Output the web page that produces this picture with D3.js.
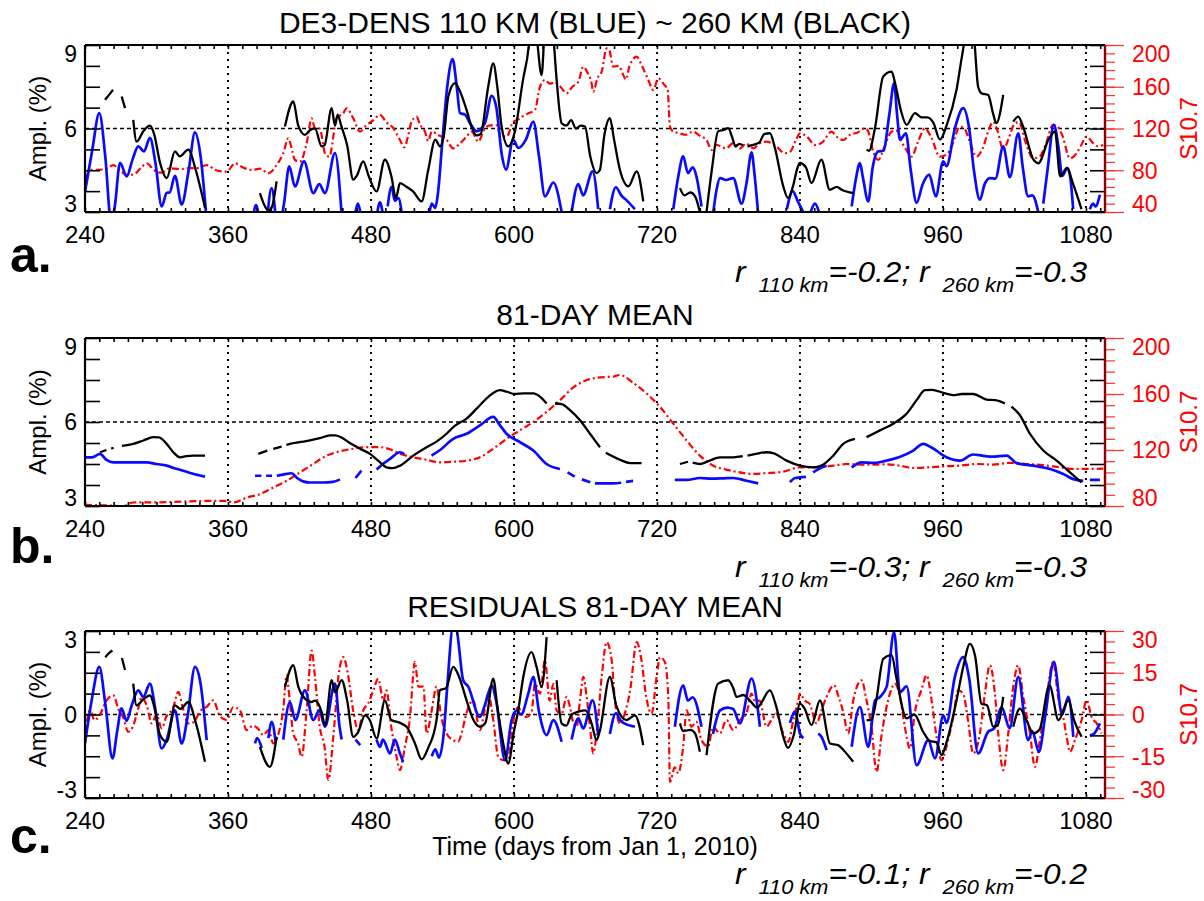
<!DOCTYPE html>
<html>
<head>
<meta charset="utf-8">
<script src="https://cdn.jsdelivr.net/npm/d3@7"></script>
<style>
  body { margin: 0; background: #fff; }
  text { font-family: "Liberation Sans", Arial, sans-serif; }
</style>
</head>
<body>
<svg id="chart" width="1204" height="901"></svg>
<script>
// tick labels
var xLabels = [240, 360, 480, 600, 720, 840, 960, 1080];

// panel a: DE3 amplitude, 110 km (blue) and 260 km (black), and S10.7
var ampBlue = [[240,3.73],[246,5.2],[252,6.55],[257,5.0],[262,2.6],[265,3.2],[269.4,4.77],[275,4.28],[280,4.9],[284.7,5.36],[289.5,5.18],[294.5,5.66],[299,4.8],[304.4,3.2],[308.6,3.69],[311,3.7],[315.5,4.3],[321.1,3.27],[327,4.5],[332.3,5.86],[337,5.0],[341.5,3.0],null,
  [381,2.8],[383.5,3.25],[386,2.8],null,[393,2.8],[396.6,3.86],[400,2.8],null,
  [405,2.8],[407,3.3],[411.4,4.64],[416.2,3.92],[423.8,4.82],[431.6,3.68],[436.6,4.0],[441.4,3.68],[449.8,5.12],[455.4,2.9],null,
  [467,3.0],[469,3.3],[471,3.0],null,[485,2.9],[487.5,3.35],[490,2.9],null,
  [494,3.2],[497.3,3.9],[500,3.4],[503,3.5],[506,2.9],null,
  [529,2.95],[531,3.3],[534,3.15],[536,3.6],[540,5.6],[544,7.5],[548.5,8.49],[552,7.5],[554.7,6.55],[558.9,6.5],[563,6.2],[568.7,5.9],[575.6,6.19],[581.3,7.17],[585,6.8],[590,5.0],[593.3,4.52],[599.4,5.6],[603.6,5.3],[610,5.6],[616.2,6.25],[621,5.0],[626,3.56],[633,4.06],[640,3.0],null,
  [648.4,3.0],[654,4.0],[658,3.6],[666,4.46],[670.7,3.1],null,
  [680.5,3.1],[685.5,3.89],[690,3.6],[695,3.4],[701.5,3.1],null,
  [733.7,3.1],[738,4.3],[742,5.0],[746,4.4],[750,4.6],[753,4.3],[757.4,3.2],null,
  [767,2.9],[770,3.8],[772.9,4.22],[778,4.15],[784,4.22],[791,3.3],[795,4.0],[799.4,5.14],[802,4.3],[805,2.9],null,
  [829,3.1],[834,3.75],[838,3.4],[842.8,3.0],null,[849,3.0],[852.6,3.3],[856,3.0],null,
  [883.4,3.2],[887,4.2],[890.3,4.76],[893,4.2],[897.3,3.38],[901,4.6],[905.7,5.18],[910,5.2],[915,6.5],[919,7.63],[921.5,6.5],[923.9,5.6],[928.9,5.83],[933,4.5],[937.9,3.33],[943,4.0],[948.5,4.34],[954,3.56],[960.2,4.82],[963,4.65],[970,6.0],[977,6.73],[982,6.0],[986,4.5],[991,3.44],[995,4.0],[999.4,4.22],[1004,4.2],[1010.6,5.36],[1016.2,4.25],[1023.2,5.83],[1027,4.6],[1031.5,3.56],[1035,3.6],[1040.5,2.9],null,
  [1044.2,3.3],[1048,4.6],[1053.1,6.13],[1057,5.3],[1060,4.3],[1064.6,4.58],[1067,4.2],[1069.3,3.1],null,
  [1083.3,3.1],[1086,3.3],[1088,3.2],[1091.7,3.62]];

var ampBlack = [[256.8,7.03],[260,7.2],[263.5,7.39],null,[270.8,7.15],[273.6,6.73],null,
  [280.5,6.31],[283.3,5.53],[289,5.9],[294.5,6.1],[298,5.8],[303,4.76],[308.6,4.22],[315.5,5.18],[319.5,5.0],[326.7,5.24],[333,4.5],[340.7,3.15],null,
  [386.8,3.68],[390,3.3],[394,3.05],[397,3.2],[400.8,4.1],null,
  [407.8,6.07],[414.8,6.97],[419,6.1],[424.6,5.77],[429,5.95],[433,6.0],[438.6,5.36],[441,5.4],[447,6.73],[449.8,6.1],[452,6.5],[455,6.1],[460,5.4],[465.1,4.16],[468,4.3],[473.5,4.82],[478,4.3],[484.7,3.74],[491.7,4.88],[497,4.3],[501,3.5],[504.3,4.04],[510,3.9],[515.5,3.73],[522.5,3.38],[528,4.5],[534,5.6],[537.9,5.36],[541,5.7],[544.9,7.15],[550.5,7.63],[554,7.4],[560.2,6.67],[564.4,6.06],[568.6,5.75],[572,5.8],[578.4,7.51],[582.6,8.34],[586,7.5],[589.6,6.07],[595.2,5.36],[600.8,5.9],[607.8,7.8],[611,8.5],[614.8,9.6],[618,9.5],[623.2,7.92],[626,9.6],[630,10],[633,9.3],[635.8,7.75],[640,6.19],[644,6.1],[648,6.3],[652,6.0],[656,6.1],[659.6,6.07],[664,5.0],[669.3,4.4],[672,4.5],[676,5.8],[680.5,6.37],[684,5.6],[689,4.5],[696,3.92],[703,4.46],[708.5,3.38],null,
  [739.3,3.86],[743,3.6],[748,3.7],[752,3.56],[756,3.0],null,
  [761.6,3.0],[766,4.5],[771.4,5.9],[776,5.95],[779.8,6.01],[783,5.7],[786,5.35],[789,5.45],[792,5.4],null,
  [796,5.35],[800,5.4],[806,5.5],[810,5.8],[814.8,5.83],[819,5.3],[826,3.92],[830,3.5],[834,3.9],[838,4.6],[840,4.76],[845,4.6],[849.7,4.04],[858,4.88],[865,3.8],[871,3.9],[875,3.8],[884.7,3.68],null,
  [895.9,5.24],[898,5.2],[902.9,6.0],[909.9,7.87],[916.9,8.04],[920,7.6],[925,6.6],[929.5,6.13],[936.5,6.55],[942,6.4],[947,6.4],[952,6.2],[957.5,5.6],[963,6.1],[971.4,7.39],[976,8.6],[979.8,9.4],[985.4,9.4],[989.5,7.51],[992.3,7.27],[998,7.2],[1002,6.55],[1004.8,6.19],[1010.6,7.21],null,
  [1019,6.25],[1023.2,6.43],[1027,6.1],[1036,4.88],[1040,4.75],[1048.6,5.6],[1054,5.9],[1058.4,4.28],[1064,4.58],[1069.3,4.0],[1076.3,3.1]];

var ampF107 = [[240,72.3],[245.6,80.3],[252,80.5],[258.2,81.3],[263.7,85],[269,80],[275,75.5],[281,76],[287.5,83],[291.7,86.7],[298,80],[304.4,77.6],[311,82],[319.7,81],[327,82],[334,82],[342,85],[350,80],[358.9,78.6],[365.9,86.7],[372,83],[379.9,80.3],[387,81.5],[393.8,77.1],[400.8,85],[406.4,96.3],[410.6,110.6],[414,98],[416.2,89.8],[420.4,88.2],[426,105.8],[430.2,129.8],[433,120],[437,120],[441.4,96.3],[445,93],[451.2,129.8],[456.7,134.6],[459.6,139.4],[465,130],[470.8,117],[476,123],[482,128],[487.5,133],[493,126],[499,120],[504.3,109],[508,102],[511,112],[514,126.5],[518.3,131.3],[521,124],[525.3,117],[528,108],[531,117],[536,114],[543.5,109],[549,101],[555,106],[560,112],[564.5,117],[570,107.4],[575.6,120.2],[580,123],[586,123],[588.2,113.8],[593.9,112.2],[599.4,126.5],[604,129],[609.2,133],[613,135],[617.6,137.7],[621.8,160],[626,166.5],[630,163],[634.4,164],[639,160],[644.2,153.7],[649,160],[654,164.8],[658.2,179.2],[661,175],[665,164],[666.5,155.3],[670,168],[673.6,174.4],[677.8,196.8],[680,195],[683.3,179.2],[688,180],[691.7,171.3],[694,167],[697,180],[703,188.8],[707,181],[712.7,166.5],[716.9,156.9],[721.1,168],[726,162],[729,157],[730.9,121.7],[733.7,117],[739,115.5],[744,114],[750.4,117],[756,113],[761.6,109],[765.8,99.4],[770,104.2],[778,101],[784,106],[789.6,101],[795,105.5],[801,101],[806,105.5],[812,107.4],[820,103],[827.4,96.3],[832,98],[837,110],[840,115.4],[846,112],[852.6,104.2],[859,107],[866.5,117],[871,112],[876.3,109],[882,114],[888,116],[894.6,120.2],[897,118],[901.5,97.8],[905.7,89.8],[911,103],[916.9,117],[921,118],[925,108],[929,100],[933.6,93],[939,107],[944.9,120.2],[950,112],[957.5,93],[963,95],[968,105],[974.2,121.7],[978,120],[982,109],[988.2,93],[993,100],[999.4,121.7],[1002.2,126.5],[1006,117],[1010.6,99.4],[1015,110],[1020.4,125],[1024,126],[1029,108],[1035.8,91.4],[1041,93],[1046,104],[1052.5,123.4],[1056,122],[1060,114],[1066.6,91.4],[1072,96],[1076,104],[1080.6,112.2],[1086,106],[1090,103],[1094.5,104.2]];

// panel b: 81-day means
var meanBlue = [[240,4.74],[246,4.74],[252.6,4.86],[258,4.65],[263.8,4.56],[280,4.56],[291.7,4.56],[300,4.5],[308.5,4.44],[315,4.35],[322.5,4.26],[330,4.16],[340.7,4.05],null,
  [382.7,4.08],[388,4.08],null,[392,4.08],[397,4.08],null,[401,4.08],[406,4.12],[413.4,4.17],[418,4.0],[423,3.88],[428.8,3.84],[440,3.84],[448,3.86],[454,3.95],null,
  [467,4.0],[472,4.26],null,[484.7,4.3],[490,4.5],[496,4.68],[504.3,4.92],[508,4.85],null,
  [530.8,4.8],[538,5.0],[549,5.4],[560.2,5.58],[571.4,5.88],[582.6,6.18],[588,5.9],[593.8,5.58],[605,5.28],[616.2,4.98],[627.4,4.5],[638.6,4.32],null,[645,4.2],[651,4.05],null,[657,3.95],[664,3.85],null,[668,3.81],[672.2,3.81],[683,3.81],[690,3.83],null,[694,3.86],[700,3.9],null,
  [735,3.93],[745,3.93],[756,4.0],[766,3.98],[776,3.99],[784,4.0],[795.2,3.9],[805,3.81],null,
  [831.6,3.85],[836,4.0],[840,4.02],[845,4.04],null,[851,4.2],[856.8,4.35],[862.4,4.44],null,
  [883.4,4.38],[891.7,4.56],[902,4.54],[912.7,4.62],[923,4.74],[935.1,4.98],[943.4,5.22],[950,5.1],[963,4.74],[974.2,4.62],[985.4,4.84],[993,4.8],[1001,4.76],[1013.4,4.8],[1021.8,4.53],[1035.9,4.44],[1050,4.32],[1061,4.14],[1069.4,3.96],[1077.7,3.9],null,
  [1083.3,3.93],[1091.7,3.93]];

var meanBlack = [[252.6,4.92],[258,5.0],null,[262,5.05],[264,5.08],null,[271,5.15],[280.5,5.22],[289,5.34],[297.3,5.46],[302,5.45],[308.5,5.22],[314.1,4.92],[319.7,4.74],[325,4.78],[330.9,4.8],[340.7,4.8],null,
  [385.4,4.86],[393,4.98],null,[398,5.04],[405,5.12],null,[409,5.18],[412,5.22],[420,5.28],[428.8,5.34],[437,5.42],[445.6,5.52],[450,5.52],[455,5.45],[463.3,5.22],[471,5.04],[479.2,4.86],[486,4.62],[493.1,4.38],[498,4.35],[504.3,4.44],[515.5,4.8],[526.7,5.1],[535,5.3],[543.4,5.58],[550,5.85],[560.2,6.12],[571.4,6.6],[578.4,6.9],[588.2,7.14],[594,7.08],[600.8,7.0],[608,7.02],[616.2,7.02],[622,6.9],[627.4,6.66],null,
  [634.4,6.66],[640,6.64],[647,6.42],[655.4,6.06],[663.8,5.58],[672.2,5.1],null,[677,4.9],[689,4.65],[697.4,4.53],[707.1,4.53],null,
  [739.3,4.5],[746,4.58],null,[750,4.55],[756,4.5],[763,4.6],[772.9,4.74],[784,4.74],[792,4.78],null,[796,4.8],[803,4.86],[812,4.92],[818,4.88],[828.8,4.62],[840,4.44],[851.2,4.38],[858,4.44],[868,4.8],[876.3,5.22],[886.1,5.4],null,
  [895.9,5.46],[907.1,5.7],[918.3,5.94],[929.5,6.3],[937.9,6.78],[944.9,7.14],[951,7.15],[960.2,7.04],[968.6,6.96],[976,7.0],[985.4,7.0],[996.6,6.8],[1004,6.78],[1012,6.66],null,
  [1017.5,6.55],[1024.6,6.24],[1033,5.58],[1044.2,4.98],[1055.4,4.62],[1066.6,4.2],[1076.4,3.84]];

var meanF107 = [[240,80.8],[255,80.5],[272,80],[280.5,82.5],[300,82.6],[322.5,83.2],[340,83.6],[358.9,83.7],[364.5,82.5],[375.7,86],[386.8,88.5],[398,93.2],[409.2,98],[420.4,104],[431.6,110.1],[442.8,116],[454,119.1],[465.1,120.9],[476.3,122],[487.5,122],[496,120.5],[504.3,117.3],[515.5,114.8],[526.7,113],[537.9,111.2],[549,111.6],[560.2,112.4],[571.4,114.8],[582.6,120.9],[593.8,128],[605,134],[616.2,140],[627.4,147.2],[638.6,155.6],[649.8,164.7],[661,170],[672.2,171.9],[683.3,172.4],[689,173.6],[700,168],[711.3,160.4],[722.5,150.8],[733.7,138.8],[744.9,126.8],[756,116],[767.3,108.8],[778,106],[789.6,104],[798,102.9],[812,103.5],[826,104.5],[840,107.6],[854,107.6],[868,108.8],[879.2,110],[896,109.5],[912.7,109.7],[924,108.8],[935,107.2],[948,107.6],[960.2,108.3],[974,108.8],[988.2,110],[1002,109.6],[1016.2,110.8],[1030.2,110],[1044,109.2],[1058.3,107.6],[1069.4,106.5],[1082,106.5],[1094.5,106.7]];

// panel c: residuals from the 81-day mean
var resBlue = [[240,-1.04],[245.6,0.51],[252,1.71],[257,0.4],[263.1,-1.58],[267,-0.6],[270.7,0.22],[274.9,-0.23],[279,0.3],[284.7,0.87],[288.9,0.63],[294.5,1.11],[299,0.2],[304.3,-1.22],[308.6,-0.9],[315.5,0.15],[321.1,-1.04],[326,-0.1],[332.3,1.71],[337,1.1],[342.1,-0.92],null,
  [382.7,-1.04],[384.5,-0.85],[388.3,-1.2],null,[393.9,-0.85],[396.7,-0.26],[400,-1.0],null,
  [406.4,-0.9],[412,0.45],[416.5,-0.2],[424.6,0.87],[431.6,-0.2],[436.6,0.15],[441.4,-0.44],[449.8,1.11],[453.5,-0.4],[455.4,-0.9],null,
  [467,-0.9],[471,-1.1],null,
  [484.7,-0.9],[487.5,-1.16],[490,-0.9],[496,-1.4],[500,-0.9],[504.3,-1.4],[507,-1.7],null,
  [531,-1.5],[534,-1.25],[537,-1.55],[541,-0.7],[544,1.0],[549,3.2],[551.5,3.1],[557.4,1.23],[561.6,1.0],[571.4,-0.09],[576,0.4],[581.3,1.05],[585,0.5],[592.5,-1.64],[598,-0.2],[602.3,0.15],[606,0.0],[612,0.75],[616.2,1.35],[621,0.1],[627.4,-0.74],[633,-0.2],[640,-0.98],null,
  [648.4,-0.9],[654,-0.14],[658,-0.5],[666,0.51],[670.7,-0.74],null,
  [680.5,-0.7],[685.5,0.04],[690,-0.25],[701.5,-0.44],null,
  [735,-0.44],[742,1.05],[746,0.5],[750,0.62],[757.4,-0.44],null,
  [767,-0.7],[772.9,0.15],[779,0.25],[784,0.2],[789.6,-0.32],[799.4,1.29],[806.4,-0.44],null,
  [831.6,-0.3],[836,0.1],[840,-0.68],[842.8,-0.85],null,[855.4,-0.68],[858,-0.8],[862.4,-1.28],null,
  [883.4,-1.16],[890.3,0.27],[897.3,-1.16],[903,0.5],[907.1,0.63],[912.7,0.99],[919,2.96],[923.9,0.8],[929.5,1.01],[937.9,-1.82],[947.7,-0.92],[953.3,-1.58],[960.3,-0.03],[963,-0.3],[970,1.35],[977,2.06],[982,1.3],[989.5,-1.4],[997.9,-0.62],[1003,-0.5],[1009.2,0.27],[1016,-0.5],[1023.2,1.35],[1031.5,-0.92],[1035,-0.6],[1040.5,-1.34],[1046,0.0],[1053.1,1.89],[1060,0.0],[1065.3,0.63],[1069.4,-0.8],null,
  [1083.3,-0.75],[1087,-0.68],[1091.7,-0.32]];

var resBlack = [[257,2.06],[260,2.2],[263,2.3],null,[271,2.03],[273.6,1.6],null,
  [280.5,1.11],[283.3,0.33],[289,0.55],[294.5,0.69],[298,0.3],[303,-0.74],[308.6,-0.98],[315.5,0.33],[320,0.2],[326.7,0.45],[333,-0.3],[340.7,-1.7],null,
  [386.8,-1.16],[395.2,-1.88],[400.8,-0.8],null,
  [407.8,0.99],[414.8,1.77],[419,1.0],[424.6,0.57],[430,0.45],[433,0.5],[438.6,0.09],[441.4,-0.38],[447,1.23],[449.8,0.8],[455.4,1.23],[460,0.5],[465.1,-0.8],[469,-0.65],[475,-0.03],[479,-0.2],[484.7,-0.86],[491.7,0.51],[497,-0.2],[504.3,-0.3],[510,-0.45],[516.9,-1.04],[522.5,-1.61],[528,-1.2],[535,-0.2],[537.9,0.87],[543,0.95],[549,1.71],[554,1.35],[560.2,0.51],[566,-0.2],[571.4,-0.44],[576,-0.3],[582.6,1.29],[586,0.3],[591,-1.04],[595.2,-1.76],[600,-0.6],[603.6,0.15],[607.8,1.35],[614.8,2.24],[619,1.7],[623.2,0.99],[627.4,2.78],null,
  [635.8,1.23],[640,-0.32],[644,-0.4],[648.4,0.0],[654,0.1],[660,0.15],[665,-0.3],[669.3,-0.92],[672,-0.6],[680.5,1.35],[686,0.3],[694.5,-0.2],[701.5,-0.03],[708.5,-1.1],null,
  [739.3,-0.32],[742,-0.6],[748,-0.55],[752,-0.68],[756,-1.34],null,
  [761.6,-1.46],[771.4,1.11],[779.8,1.23],[784,0.95],[786.8,0.63],[792.4,0.7],[798,0.5],[804,0.25],[814.8,0.87],[820,0.3],[826,-0.8],[830,-1.2],[835,-0.7],[840,0.39],[844,0.2],[849.7,-0.38],[856.8,0.51],[865.2,-1.04],[872,-1.1],[877,-1.3],[884.7,-1.7],null,
  [895.9,-0.2],[900,-0.2],[904,0.5],[909.9,2.0],[916.9,2.13],[921,1.3],[929.5,-0.14],[936,0.0],[943.4,-0.62],[949,-0.95],[954.6,-1.0],[958.8,-1.46],[963,-1.0],[971.4,0.51],[977,1.71],[982.6,2.54],[987,2.1],[992.3,0.39],[997,0.33],[1002.2,-0.44],[1006,-0.38],[1010.6,0.63],null,
  [1019,-0.44],[1024.6,0.21],[1030,-0.2],[1036,-0.68],[1041,-0.55],[1049.4,1.05],[1057,-0.2],[1065.3,0.51],[1070,-0.2],[1076.4,-0.8]];

var resF107 = [[240,-8],[244.2,1.5],[248,-2],[252,-0.5],[258.2,5.1],[263.8,6.9],[268,2],[272,-1],[276.3,-6.2],[280,-4.5],[284,1],[287.5,6.1],[292,3],[296,-3.2],[300,0],[304.4,-5],[308,-1],[314,2.5],[318.3,8.1],[322,2.5],[326.7,-3.2],[331,-2.8],[337,1.4],[342.1,2.7],[347.7,5.1],[353,-0.5],[358.9,-2],[364.5,2.7],[370,1.5],[375.7,-5.6],[381,-4],[385,-5],[389.6,-7.4],[394,-5.6],[398,-10.4],[402,-7.5],[406.4,2.1],[409.2,14.1],[411.8,5],[414.8,-6.8],[418.8,-10.4],[421.8,-15.2],[426,1.5],[430.2,23],[433,13.5],[437,-4.4],[441,-11.5],[444.2,-23.5],[448.5,-7.4],[452.8,14],[456.7,20.6],[460.8,14.1],[465,1.5],[469.3,-5.6],[473.5,1.5],[477.7,4],[482,8.7],[486.1,12.9],[490.4,5],[493,8.7],[497,-4.4],[501.5,-15.2],[504.3,-20],[508.5,-11.5],[512.5,-2],[516.9,18.9],[519.7,10],[524,10],[526.7,-6.8],[531,1.5],[535,10],[539,-1],[543.4,-6.8],[549,-9.2],[553.2,-9.8],[556,-6.8],[560,0.3],[565.8,5.1],[571.4,-5.6],[575.6,2],[578.4,7.5],[582.6,-2],[586.8,-15.2],[591,-16.4],[595,-16.4],[599.4,-2.6],[603.6,2.7],[606.4,0.3],[610.6,-0.9],[614.8,0.9],[617.6,11.1],[621.8,7.5],[626,19.5],[630,5],[633,11],[635.8,1.5],[640,0.3],[644.2,6.3],[647,2.7],[650,-3.2],[652.6,-4.4],[655.4,5.1],[658.2,13.5],[661,6.3],[663.8,-4.4],[666.5,-14],[669.3,-6.8],[673.6,13.5],[677.8,26],[682,19.5],[684.7,5.1],[689,-3.2],[693,0.3],[697.5,8.7],[703,26],[707,19.5],[711,6.3],[715.5,0.3],[719.7,13.5],[722.5,20.6],[726.6,18.9],[729.5,6.3],[730.9,-24.2],[735,-19],[737.9,-21.1],[742,-11.5],[744.9,1.5],[749,-4.4],[753,-2.6],[757.4,-9.2],[763,-11.5],[767,-4.4],[772.8,-6.8],[778.4,-2],[784,-5.6],[789.6,-2],[795,0.3],[799.4,7.5],[802,5],[806,5],[812,-4.4],[816,-2],[820,0.3],[826,-6.8],[830.2,-9.8],[834.4,-2],[838.6,5.1],[840,7.5],[844,5],[848,3.9],[854,-3.2],[858,1.5],[862,6],[868.5,10.5],[872.7,6],[876.3,1],[880.5,-6.8],[884.7,5],[891.7,12.3],[895.9,5],[900,-4.4],[904.3,-20.6],[908.5,-7.4],[915.5,7.5],[919.7,11.1],[923.9,6.3],[928,-4.4],[932.3,-12.2],[936.5,1],[942.1,9],[946.3,14.1],[950.5,5],[954.6,-8],[958.8,-16.4],[963,-11.5],[968.6,-0.9],[972.8,8.7],[977,7.5],[981,-2],[985.4,-14],[991,-6.8],[995.2,7.5],[999.4,17.7],[1003.6,7.5],[1006.4,-6.8],[1010.6,-20],[1014.8,-6.8],[1019,10],[1023.2,17.7],[1027.4,6.3],[1033,-6.8],[1037.2,-18.8],[1041.4,-9.2],[1047,6.3],[1052.5,18.9],[1056.7,6.3],[1061,-1],[1063.8,-8],[1066.6,-13.4],[1070.8,-9.2],[1076.4,-2],[1080.6,5.1],[1084.8,-1],[1089,-3.2],[1093.2,-6.8]];

var panels = [
  {top: 45, bottom: 212, yDom: [3, 9], yStep: 0.75, yLabels: [3, 6, 9], yRef: 6,
   rDom: [40, 200], rStep: 8, rLabels: [40, 80, 120, 160, 200],
   title: "DE3-DENS 110 KM (BLUE) ~ 260 KM (BLACK)", titleY: 33, tag: "a.", tagY: 272,
   corr: ["-0.2", "-0.3"], corrY: 282, blue: ampBlue, black: ampBlack, red: ampF107},
  {top: 338, bottom: 506, yDom: [3, 9], yStep: 0.75, yLabels: [3, 6, 9], yRef: 6,
   rDom: [80, 200], rStep: 8, rLabels: [80, 120, 160, 200],
   title: "81-DAY MEAN", titleY: 325, tag: "b.", tagY: 563,
   corr: ["-0.3", "-0.3"], corrY: 577, blue: meanBlue, black: meanBlack, red: meanF107},
  {top: 631, bottom: 798, yDom: [-3, 3], yStep: 0.75, yLabels: [-3, 0, 3], yRef: 0,
   rDom: [-30, 30], rStep: 3.75, rLabels: [-30, -15, 0, 15, 30],
   title: "RESIDUALS 81-DAY MEAN", titleY: 617, tag: "c.", tagY: 853,
   corr: ["-0.1", "-0.2"], corrY: 884, blue: resBlue, black: resBlack, red: resF107}
];

var svg = d3.select("#chart");
svg.append("rect").attr("width", 1204).attr("height", 901).attr("fill", "#fff");

var left = 85, right = 1105;
var x = d3.scaleLinear().domain([240, 1096]).range([left, right]);

panels.forEach(function(p, i) {
  var y = d3.scaleLinear().domain(p.yDom).range([p.bottom, p.top]);
  var yr = d3.scaleLinear().domain(p.rDom).range([p.bottom, p.top]);
  var g = svg.append("g");
  var clipId = "clip" + i;

  g.append("clipPath").attr("id", clipId)
    .append("rect").attr("x", left).attr("y", p.top)
    .attr("width", right - left).attr("height", p.bottom - p.top);

  // reference lines
  g.selectAll(".vgrid").data(xLabels.slice(1)).enter().append("line")
    .attr("x1", d => x(d)).attr("x2", d => x(d))
    .attr("y1", p.top).attr("y2", p.bottom)
    .attr("stroke", "#000").attr("stroke-width", 2).attr("stroke-dasharray", "2,5");
  g.append("line")
    .attr("x1", left).attr("x2", right).attr("y1", y(p.yRef)).attr("y2", y(p.yRef))
    .attr("stroke", "#000").attr("stroke-width", 1.4).attr("stroke-dasharray", "4,3");

  var lineL = d3.line().defined(d => d != null)
    .x(d => x(d[0])).y(d => y(d[1])).curve(d3.curveMonotoneX);
  var lineR = d3.line().defined(d => d != null)
    .x(d => x(d[0])).y(d => yr(d[1])).curve(d3.curveMonotoneX);

  var plot = g.append("g").attr("clip-path", "url(#" + clipId + ")");
  plot.append("path").attr("d", lineR(p.red)).attr("fill", "none")
    .attr("stroke", "#ff0000").attr("stroke-width", 2.2).attr("stroke-dasharray", "7,3,2,3");
  plot.append("path").attr("d", lineL(p.blue)).attr("fill", "none")
    .attr("stroke", "#0a0aff").attr("stroke-width", 2.7);
  plot.append("path").attr("d", lineL(p.black)).attr("fill", "none")
    .attr("stroke", "#000").attr("stroke-width", 2.3);

  // x minor ticks top and bottom
  var xMinor = d3.range(240, 1097, 12);
  g.append("g").attr("transform", "translate(0," + p.bottom + ")")
    .call(d3.axisBottom(x).tickValues(xMinor).tickSize(-4).tickFormat(""));
  g.append("g").attr("transform", "translate(0," + p.top + ")")
    .call(d3.axisTop(x).tickValues(xMinor).tickSize(-4).tickFormat(""));

  // left ticks inward, mirrored on the right
  var yTicks = d3.range(p.yDom[0], p.yDom[1] + 0.01, p.yStep);
  g.append("g").attr("transform", "translate(" + left + ",0)")
    .call(d3.axisLeft(y).tickValues(yTicks).tickSize(-15).tickFormat(""));
  g.append("g").attr("transform", "translate(" + right + ",0)")
    .call(d3.axisRight(y).tickValues(yTicks).tickSize(-15).tickFormat(""));

  // red right axis
  var rTicks = d3.range(p.rDom[0], p.rDom[1] + 0.01, p.rStep);
  g.append("g").attr("class", "raxis").attr("transform", "translate(" + right + ",0)")
    .call(d3.axisRight(yr).tickValues(rTicks).tickSize(10).tickFormat(""));
  g.append("g").attr("class", "raxis").attr("transform", "translate(" + right + ",0)")
    .call(d3.axisRight(yr).tickValues(p.rLabels).tickSize(19).tickFormat(""));

  g.selectAll(".domain").remove();
  g.selectAll(".tick line").attr("stroke", "#000").attr("stroke-width", 1.6);
  g.selectAll(".raxis .tick line").attr("stroke", "#ff3030").attr("stroke-width", 1.2);

  // frame
  g.append("line").attr("x1", left).attr("x2", right).attr("y1", p.top).attr("y2", p.top)
    .attr("stroke", "#000").attr("stroke-width", 2.2);
  g.append("line").attr("x1", left).attr("x2", right).attr("y1", p.bottom).attr("y2", p.bottom)
    .attr("stroke", "#000").attr("stroke-width", 2.2);
  g.append("line").attr("x1", left).attr("x2", left).attr("y1", p.top).attr("y2", p.bottom)
    .attr("stroke", "#000").attr("stroke-width", 2.2);
  g.append("line").attr("x1", right).attr("x2", right).attr("y1", p.top).attr("y2", p.bottom)
    .attr("stroke", "#8b0000").attr("stroke-width", 2.4);

  // tick labels
  function edgeShift(v, dom) {
    if (v === dom[1]) return "0.72em";
    if (v === dom[0]) return "0em";
    return "0.36em";
  }
  g.selectAll(".xl").data(xLabels).enter().append("text")
    .attr("x", d => x(d)).attr("y", p.bottom + 31)
    .attr("text-anchor", "middle").attr("font-size", 24).text(d => d);
  g.selectAll(".yl").data(p.yLabels).enter().append("text")
    .attr("x", 77).attr("y", d => y(d)).attr("dy", d => edgeShift(d, p.yDom))
    .attr("text-anchor", "end").attr("font-size", 23).text(d => d);
  g.selectAll(".rl").data(p.rLabels).enter().append("text")
    .attr("x", 1132).attr("y", d => yr(d)).attr("dy", d => edgeShift(d, p.rDom))
    .attr("font-size", 23).attr("fill", "#ff0000").text(d => d);

  // axis titles
  var mid = (p.top + p.bottom) / 2;
  g.append("text").attr("transform", "translate(46," + mid + ") rotate(-90)")
    .attr("text-anchor", "middle").attr("font-size", 24).text("Ampl. (%)");
  g.append("text").attr("transform", "translate(1197," + mid + ") rotate(-90)")
    .attr("text-anchor", "middle").attr("font-size", 24).attr("fill", "#ff0000").text("S10.7");

  g.append("text").attr("x", (left + right) / 2).attr("y", p.titleY)
    .attr("text-anchor", "middle").attr("font-size", 30).text(p.title);
  g.append("text").attr("x", 10).attr("y", p.tagY)
    .attr("font-size", 50).attr("font-weight", "bold").text(p.tag);

  // correlation note
  var t = g.append("text").attr("x", 735).attr("y", p.corrY)
    .attr("font-family", "'Open Sans', sans-serif").attr("font-style", "italic")
    .attr("font-size", 29).attr("textLength", 352).attr("lengthAdjust", "spacingAndGlyphs");
  t.append("tspan").text("r");
  t.append("tspan").attr("dx", 12).attr("dy", 10).attr("font-size", 20).text("110 km");
  t.append("tspan").attr("dy", -10).text("=" + p.corr[0] + "; r");
  t.append("tspan").attr("dx", 12).attr("dy", 10).attr("font-size", 20).text("260 km");
  t.append("tspan").attr("dy", -10).text("=" + p.corr[1]);
});

svg.append("text").attr("x", (left + right) / 2).attr("y", 855)
  .attr("text-anchor", "middle").attr("font-size", 25)
  .text("Time (days from Jan 1, 2010)");
</script>
</body>
</html>
